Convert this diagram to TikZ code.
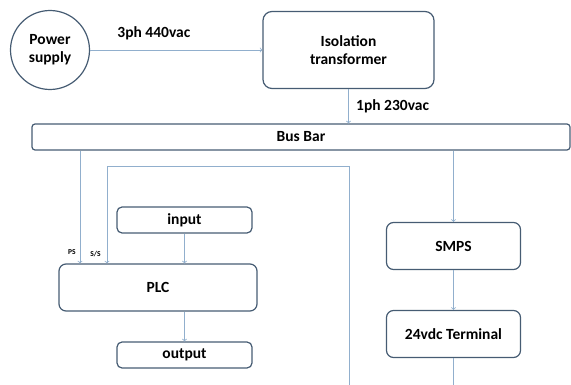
\documentclass[tikz,border=0pt]{standalone}
\usepackage{fontspec}
\setmainfont{Carlito}
\usetikzlibrary{arrows,positioning,shapes}
\definecolor{boxline}{RGB}{70,92,115}
\definecolor{wirecol}{RGB}{145,175,205}
\tikzstyle{block}=[draw=boxline, line width=1.2pt, rounded corners=5pt, align=center, font=\fontsize{15.5}{18}\selectfont\bfseries]
\tikzstyle{source}=[block, circle, minimum size=79pt]
\tikzstyle{bigblock}=[block, rounded corners=9pt, minimum width=171pt, minimum height=77pt]
\tikzstyle{busbar}=[block, rounded corners=3pt, minimum width=538pt, minimum height=26pt]
\tikzstyle{ioblock}=[block, minimum width=135pt, minimum height=26pt]
\tikzstyle{plcblock}=[block, rounded corners=7pt, minimum width=198pt, minimum height=47pt]
\tikzstyle{dcblock}=[block, rounded corners=7pt, minimum width=134pt, minimum height=47pt]
\tikzset{%
    feed/.style={draw=wirecol, line width=0.8pt, -to},
    tag/.style={font=\fontsize{15.5}{18}\selectfont\bfseries},
    smalltag/.style={font=\fontsize{7.5}{8}\selectfont\bfseries, inner sep=1pt},
  }
\begin{document}
\begin{tikzpicture}[x=1pt, y=1pt, node distance=50pt]
    \useasboundingbox (0,0) rectangle (571,-385);
    \node (psu) [source] at (50,-50) {Power\\supply};
    \node (iso) [bigblock, right of=psu, node distance=298.5pt] {Isolation\\transformer};
    \node (bus) [busbar, below of=iso, node distance=87pt, xshift=-47.5pt] {Bus Bar};
    %
    \node (input) [ioblock] at (184.5,-220) {input};
    \node (plc) [plcblock, below of=input, node distance=67.5pt, xshift=-26.5pt] {PLC};
    \node (output) [ioblock, below of=input, node distance=135pt] {output};
    %
    \node (smps) [dcblock] at (453.5,-246) {SMPS};
    \node (term) [dcblock, below of=smps, node distance=88pt] {24vdc Terminal};
    %
    \coordinate (ssend) at (349,-385);
    \coordinate (dcend) at (term.south |- ssend);
    %
    \draw [feed] (psu) -- (iso) node[pos=0.37, above=6pt, tag] {3ph 440vac};
    \draw [feed] (iso) -- (iso |- bus.north) node[midway, right, xshift=4pt, tag] {1ph 230vac};
    \draw [feed] ([xshift=-78pt]plc.north |- bus.south) -- ([xshift=-78pt]plc.north) node[pos=0.9, left, xshift=-3pt, smalltag] {PS};
    \draw [feed] (ssend) -- ++(0,219) -| ([xshift=-51pt]plc.north) node[pos=0.95, left, xshift=-5pt, smalltag] {S/S};
    \draw [feed] (input) -- (input |- plc.north);
    \draw [feed] (input |- plc.south) -- (output);
    \draw [feed] (smps |- bus.south) -- (smps);
    \draw [feed] (smps) -- (term);
    \draw [feed, -] (term) -- (dcend);
  \end{tikzpicture}
\end{document}
